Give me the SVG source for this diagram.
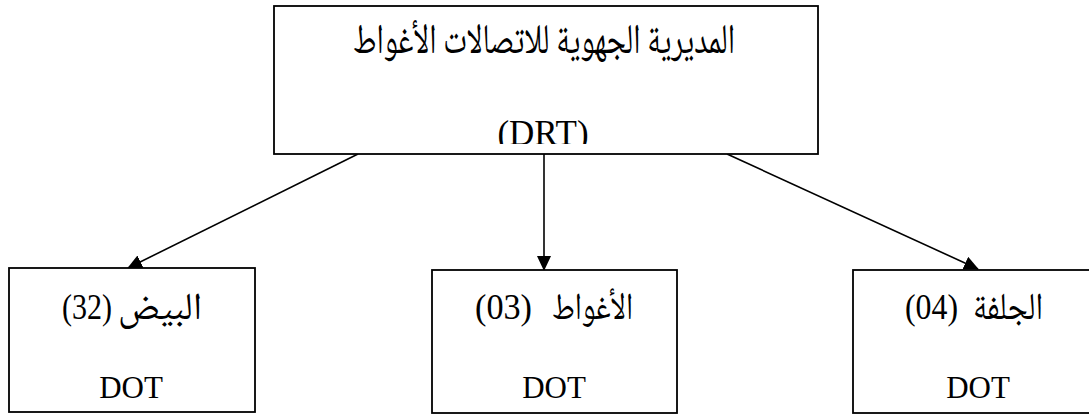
<svg xmlns="http://www.w3.org/2000/svg" width="1089" height="414" viewBox="0 0 1089 414">
<style>
.box{fill:#fff;stroke:#000;stroke-width:1.8}
.lat{font-family:"Liberation Serif","Times New Roman",serif;fill:#000}
.ar{font-family:"Noto Naskh Arabic","DejaVu Sans",serif;fill:#000}
.conn{stroke:#000;stroke-width:1.6;fill:none}
</style>
<defs>
<marker id="ah" markerUnits="userSpaceOnUse" markerWidth="16" markerHeight="14" refX="14" refY="7" orient="auto">
<path d="M0,0 L15,7 L0,14 Z" fill="#000"/>
</marker>
<clipPath id="topclip"><rect x="274" y="5" width="544" height="139"/></clipPath>
</defs>
<g id="connectors">
<line class="conn" x1="358" y1="154" x2="128" y2="268" marker-end="url(#ah)"/>
<line class="conn" x1="544" y1="154" x2="544" y2="270" marker-end="url(#ah)"/>
<line class="conn" x1="727" y1="154" x2="978" y2="269" marker-end="url(#ah)"/>
</g>
<g id="drt">
<rect class="box" x="274" y="6" width="544" height="148"/>
<text class="ar" x="544" y="53" font-size="42" text-anchor="middle" direction="rtl" textLength="382" lengthAdjust="spacingAndGlyphs">المديرية الجهوية للاتصالات الأغواط</text>
<g clip-path="url(#topclip)">
<text class="lat" x="543" y="144.5" font-size="35" text-anchor="middle">(DRT)</text>
</g>
</g>
<g id="dot32">
<rect class="box" x="9" y="268" width="246" height="144"/>
<text class="lat" x="62" y="319" font-size="35" textLength="50" lengthAdjust="spacingAndGlyphs">(32)</text>
<text class="ar" x="160" y="319" font-size="38" text-anchor="middle" textLength="84" lengthAdjust="spacingAndGlyphs">البيض</text>
<text class="lat" x="131" y="398" font-size="31" text-anchor="middle">DOT</text>
</g>
<g id="dot03">
<rect class="box" x="432" y="270" width="245" height="143"/>
<text class="lat" x="475" y="319" font-size="35" textLength="57" lengthAdjust="spacingAndGlyphs">(03)</text>
<text class="ar" x="592.5" y="319" font-size="38" text-anchor="middle" textLength="81" lengthAdjust="spacingAndGlyphs">الأغواط</text>
<text class="lat" x="554" y="398" font-size="31" text-anchor="middle">DOT</text>
</g>
<g id="dot04">
<rect class="box" x="853" y="270" width="250" height="143"/>
<text class="lat" x="905" y="319" font-size="35" textLength="53" lengthAdjust="spacingAndGlyphs">(04)</text>
<text class="ar" x="1008" y="319" font-size="38" text-anchor="middle" textLength="70" lengthAdjust="spacingAndGlyphs">الجلفة</text>
<text class="lat" x="978" y="398" font-size="31" text-anchor="middle">DOT</text>
</g>
</svg>
